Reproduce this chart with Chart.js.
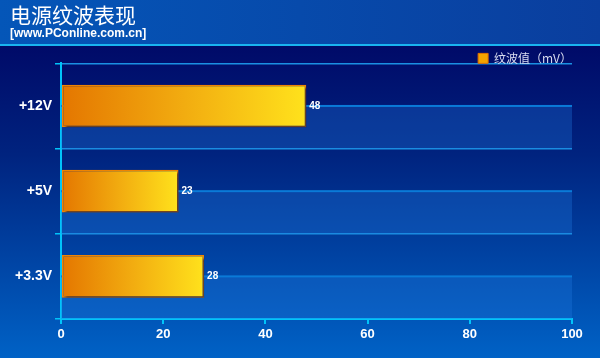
<!DOCTYPE html>
<html>
<head>
<meta charset="utf-8">
<script src="https://cdn.jsdelivr.net/npm/chart.js@4/dist/chart.umd.min.js"></script>
<style>
  html, body { margin: 0; padding: 0; background: #000a6a; }
  #wrap { width: 600px; height: 358px; }
</style>
</head>
<body>
<div id="wrap"><canvas id="ripple"></canvas></div>
<script>
// 数据
var categories = ["+12V", "+5V", "+3.3V"];
var rippleValues = [48, 23, 28];
var seriesName = "纹波值（mV）";
var xTicks = [0, 20, 40, 60, 80, 100];

// 背景、标题栏、分带
var backdrop = {
  id: "backdrop",
  afterLayout: function (chart) {
    // 图例下移到网格线上方
    chart.legend.top += 11;
    chart.legend.bottom += 11;
  },
  beforeDraw: function (chart) {
    var c = chart.ctx, w = chart.width, h = chart.height;
    c.save();
    var bg = c.createLinearGradient(0, 45, 0, h);
    bg.addColorStop(0, "#000a68");
    bg.addColorStop(0.35, "#00237f");
    bg.addColorStop(1, "#0062c6");
    c.fillStyle = bg;
    c.fillRect(0, 0, w, h);
    var hd = c.createLinearGradient(0, 0, w, 0);
    hd.addColorStop(0, "#0456b8");
    hd.addColorStop(1, "#0a3e9e");
    c.fillStyle = hd;
    c.fillRect(0, 0, w, 45);
    c.fillStyle = "#19b4f0";
    c.fillRect(0, 44, w, 2);
    c.restore();
  },
  beforeDatasetsDraw: function (chart) {
    var c = chart.ctx, a = chart.chartArea, y = chart.scales.y;
    var band = (a.bottom - a.top) / categories.length;
    c.save();
    categories.forEach(function (cat, i) {
      var mid = y.getPixelForValue(i);
      c.fillStyle = "rgba(30,120,225,0.32)";
      c.fillRect(a.left, mid, a.right - a.left, band / 2);
      c.fillStyle = "#0a7ad8";
      c.fillRect(a.left, mid - 1, a.right - a.left, 2);
    });
    c.restore();
    c.save();
    c.shadowColor = "rgba(0,10,60,0.6)";
    c.shadowOffsetX = 2;
    c.shadowOffsetY = 2;
    c.shadowBlur = 2;
  },
  afterDatasetsDraw: function (chart) {
    var c = chart.ctx;
    c.restore();
    var meta = chart.getDatasetMeta(0);
    c.save();
    c.fillStyle = "#ffffff";
    c.font = "bold 10px 'Liberation Sans', Arial";
    c.textBaseline = "middle";
    meta.data.forEach(function (bar, i) {
      c.fillText(String(rippleValues[i]), bar.x + 3, bar.y);
    });
    c.restore();
  }
};

function barFill(context) {
  var chart = context.chart;
  var xs = chart.scales.x;
  if (!chart.chartArea || !xs || context.parsed === undefined) return "#f0a000";
  var x0 = xs.getPixelForValue(0);
  var x1 = xs.getPixelForValue(context.parsed.x);
  var g = chart.ctx.createLinearGradient(x0, 0, x1, 0);
  g.addColorStop(0, "#e47600");
  g.addColorStop(0.5, "#f2ac10");
  g.addColorStop(1, "#ffe21c");
  return g;
}

var ctx = document.getElementById("ripple").getContext("2d");
new Chart(ctx, {
  type: "bar",
  data: {
    labels: categories,
    datasets: [
      {
        label: seriesName,
        data: rippleValues,
        backgroundColor: barFill,
        borderColor: "#f08400",
        borderWidth: 1.5,
        borderSkipped: false,
        categoryPercentage: 1,
        barPercentage: 0.5,
      },
    ],
  },
  options: {
    indexAxis: "y",
    responsive: true,
    maintainAspectRatio: false,
    animation: false,
    layout: { padding: { left: 10, right: 28, top: 0, bottom: 0 } },
    plugins: {
      title: {
        display: true,
        text: "电源纹波表现",
        align: "start",
        color: "#ffffff",
        font: { family: "'Noto Sans CJK SC'", size: 21, weight: "normal", lineHeight: 1.15 },
        padding: { top: 3, bottom: 0 },
      },
      subtitle: {
        display: true,
        text: "[www.PConline.com.cn]",
        align: "start",
        color: "#ffffff",
        font: { family: "'Liberation Sans', Arial", size: 12, weight: "bold", lineHeight: 1.1 },
        padding: { top: 0, bottom: 1 },
      },
      legend: {
        display: true,
        align: "end",
        labels: {
          color: "#d8dcf0",
          boxWidth: 10,
          boxHeight: 10,
          padding: 0,
          font: { family: "'Noto Sans CJK SC'", size: 12, lineHeight: 1 },
          generateLabels: function () {
            return [{ text: seriesName, fillStyle: "#f4a400", strokeStyle: "#e07000", lineWidth: 1, fontColor: "#d8dcf0" }];
          },
        },
      },
      tooltip: { enabled: false },
    },
    scales: {
      x: {
        min: 0,
        max: 100,
        afterBuildTicks: function (s) {
          s.ticks = xTicks.map(function (v) { return { value: v }; });
        },
        afterFit: function (s) { s.height = 39; },
        border: { color: "#00c4fa", width: 2 },
        grid: { drawOnChartArea: false, drawTicks: true, tickLength: 5, color: "#00c4fa", lineWidth: 2 },
        ticks: { color: "#ffffff", padding: 3, font: { family: "'Liberation Sans', Arial", size: 13, weight: "bold" } },
      },
      y: {
        afterFit: function (s) { s.width = 51; },
        border: { color: "#00c4fa", width: 2 },
        grid: { offset: true, color: "#1a90e2", lineWidth: 1.5, tickLength: 6, tickColor: "#00c4fa" },
        ticks: { color: "#ffffff", padding: 3, font: { family: "'Liberation Sans', Arial", size: 14, weight: "bold" } },
      },
    },
  },
  plugins: [backdrop],
});
</script>
</body>
</html>
